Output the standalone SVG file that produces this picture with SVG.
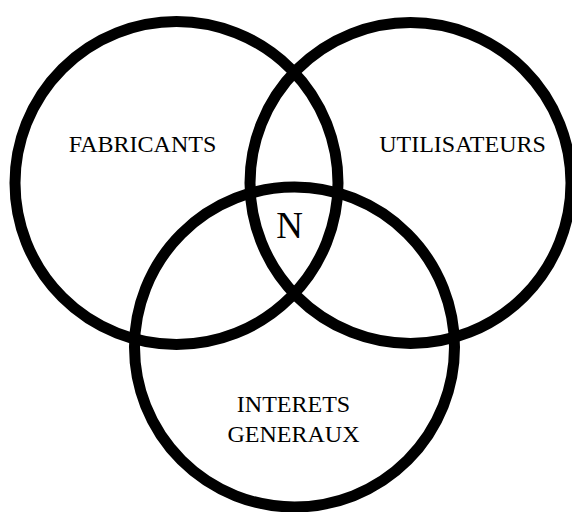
<svg xmlns="http://www.w3.org/2000/svg" width="572" height="512" viewBox="0 0 572 512">
<style>
.ring{fill:none;stroke:#000;stroke-width:11}
.lbl{font-family:"Liberation Serif","Times New Roman",serif;font-size:24px;fill:#000;text-anchor:middle}
</style>
<rect width="572" height="512" fill="#fff"/>
<g id="fabricants">
<circle class="ring" cx="176.5" cy="183" r="161.5"/>
<text class="lbl" x="142.5" y="152">FABRICANTS</text>
</g>
<g id="utilisateurs">
<circle class="ring" cx="410.5" cy="183" r="160.5"/>
<text class="lbl" x="462.5" y="152">UTILISATEURS</text>
</g>
<g id="interets">
<circle class="ring" cx="294.5" cy="347" r="160"/>
<text class="lbl" x="293.5" y="412">INTERETS</text>
<text class="lbl" x="293.5" y="442">GENERAUX</text>
</g>
<g id="n">
<text class="lbl" x="289.5" y="238" style="font-size:37px">N</text>
</g>
<g id="connectors"/>
</svg>
